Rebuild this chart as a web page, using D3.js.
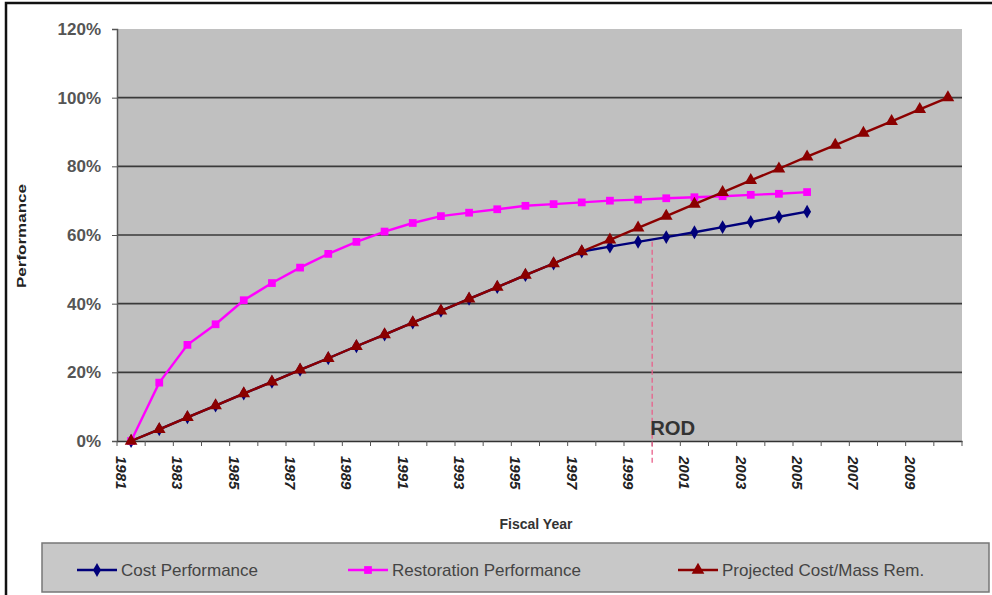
<!DOCTYPE html>
<html><head><meta charset="utf-8">
<script src="https://cdn.jsdelivr.net/npm/d3@7"></script>
<style>body{margin:0;background:#fff}svg{display:block}</style>
</head><body>
<svg id="c" width="992" height="595"></svg>
<script>
const years = d3.range(1981, 2011);
const tickLabels = [1981,1983,1985,1987,1989,1991,1993,1995,1997,1999,2001,2003,2005,2007,2009];
const yTicks = [0,20,40,60,80,100,120];
const costPerf = [0,3.4,6.9,10.3,13.8,17.2,20.7,24.1,27.6,31.0,34.5,37.9,41.4,44.8,48.3,51.7,55.2,56.6,58.0,59.4,60.8,62.3,63.8,65.3,66.8];
const restPerf = [0,17,28,34,41,46,50.5,54.5,58,61,63.5,65.5,66.5,67.5,68.5,69,69.5,70,70.3,70.7,71,71.3,71.7,72,72.5];
const projected = [0,3.4,6.9,10.3,13.8,17.2,20.7,24.1,27.6,31.0,34.5,37.9,41.4,44.8,48.3,51.7,55.2,58.6,62.1,65.5,69.0,72.4,75.9,79.3,82.8,86.2,89.7,93.1,96.6,100];
const seriesNames = ["Cost Performance","Restoration Performance","Projected Cost/Mass Rem."];
const rodYear = 1999;
const rodTop = 58;

const svg = d3.select("#c");
const F = "'Liberation Sans', Arial, sans-serif";
const L = 117, R = 962, T = 29, B = 441;

// outer border
svg.append("rect").attr("x",6).attr("y",3).attr("width",1000).attr("height",600)
  .attr("fill","none").attr("stroke","#111").attr("stroke-width",2.5);

const x = d3.scaleBand().domain(years).range([L,R]);
const y = d3.scaleLinear().domain([0,120]).range([B,T]);
const cx = d => x(d) + x.bandwidth()/2;

svg.append("rect").attr("x",L).attr("y",T).attr("width",R-L).attr("height",B-T).attr("fill","#c0c0c0");

// gridlines
svg.append("g").selectAll("line").data(yTicks.filter(v=>v>0 && v<120)).join("line")
  .attr("x1",L).attr("x2",R).attr("y1",d=>y(d)).attr("y2",d=>y(d))
  .attr("stroke","#3a3a3a").attr("stroke-width",1.6);

// y axis
const ya = svg.append("g").attr("transform",`translate(${L},0)`)
  .call(d3.axisLeft(y).tickValues(yTicks).tickSize(5).tickFormat(d=>d+"%"));
ya.select(".domain").attr("stroke","#555").attr("stroke-width",1.5);
ya.selectAll(".tick line").attr("stroke","#555");
ya.selectAll("text").attr("font-family",F).attr("font-size",17).attr("font-weight","bold")
  .attr("fill","#555").attr("x",-16);

// x axis
const xa = svg.append("g").attr("transform",`translate(0,${B})`)
  .call(d3.axisBottom(x).tickValues([]).tickSize(0));
xa.select(".domain").attr("stroke","#333").attr("stroke-width",1.5);
xa.selectAll("line.b").data(years.concat([2011])).join("line").attr("class","b")
  .attr("x1",(d,i)=>L+i*x.step()).attr("x2",(d,i)=>L+i*x.step())
  .attr("y1",0).attr("y2",5).attr("stroke","#555");
svg.append("g").selectAll("text").data(tickLabels).join("text")
  .attr("transform",d=>`translate(${cx(d)-10},${B+15}) rotate(90)`)
  .attr("dy","0.35em").attr("font-family",F).attr("font-size",15).attr("font-weight","bold")
  .attr("font-style","italic").attr("fill","#222").text(d=>d);

// axis titles
svg.append("text").attr("transform","translate(26,236) rotate(-90)").attr("text-anchor","middle")
  .attr("font-family",F).attr("font-size",12).attr("font-weight","bold").attr("fill","#222")
  .attr("textLength",104).attr("lengthAdjust","spacingAndGlyphs").text("Performance");
svg.append("text").attr("x",536).attr("y",529).attr("text-anchor","middle")
  .attr("font-family",F).attr("font-size",14).attr("font-weight","bold").attr("fill","#333").text("Fiscal Year");

// ROD line
const rodX = x(rodYear) + x.step();
svg.append("line").attr("x1",rodX).attr("x2",rodX).attr("y1",y(rodTop)).attr("y2",B+22)
  .attr("stroke","#e8608a").attr("stroke-width",1.3).attr("stroke-dasharray","5,3");
svg.append("text").attr("x",rodX-2).attr("y",B-6).attr("font-family","'Liberation Sans Narrow', 'Liberation Sans', sans-serif")
  .attr("font-size",20).attr("font-weight","bold").attr("fill","#333")
  .attr("textLength",45).attr("lengthAdjust","spacingAndGlyphs").text("ROD");

const colors = ["#00007a","#ff00ff","#8b0000"];
const symbols = [d3.symbolDiamond, d3.symbolSquare, d3.symbolTriangle];
const sizes = [55, 60, 70];
const data = [costPerf, restPerf, projected];
const line = d3.line().x((d,i)=>cx(years[i])).y(d=>y(d));

data.forEach((vals,k)=>{
  svg.append("path").datum(vals).attr("d",line).attr("fill","none")
    .attr("stroke",colors[k]).attr("stroke-width",2.4);
  svg.append("g").selectAll("path").data(vals).join("path")
    .attr("transform",(d,i)=>`translate(${cx(years[i])},${y(d)})`)
    .attr("d",d3.symbol().type(symbols[k]).size(sizes[k])).attr("fill",colors[k]);
});

// legend
svg.append("rect").attr("x",42).attr("y",543).attr("width",947).attr("height",49)
  .attr("fill","#c8c8c8").attr("stroke","#777").attr("stroke-width",1.5);
const lx = [77, 348, 678];
seriesNames.forEach((n,k)=>{
  const g = svg.append("g").attr("transform",`translate(${lx[k]},570)`);
  g.append("line").attr("x1",0).attr("x2",40).attr("stroke",colors[k]).attr("stroke-width",2.4);
  g.append("path").attr("transform","translate(20,0)").attr("d",d3.symbol().type(symbols[k]).size(sizes[k])).attr("fill",colors[k]);
  g.append("text").attr("x",44).attr("dy","0.36em").attr("font-family",F).attr("font-size",17)
    .attr("fill","#444").text(n);
});
</script>
</body></html>
